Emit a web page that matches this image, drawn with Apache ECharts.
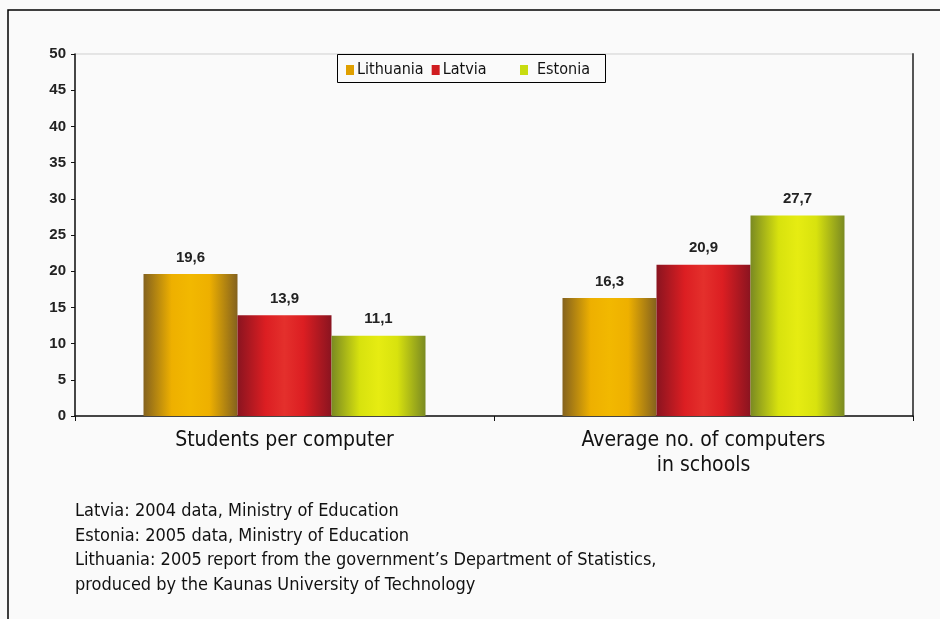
<!DOCTYPE html>
<html><head><meta charset="utf-8">
<script src="https://cdn.jsdelivr.net/npm/echarts@6/dist/echarts.min.js"></script>
<style>html,body{margin:0;padding:0;background:#fafafa}#c{width:940px;height:619px}</style>
</head><body><div id="c"></div>
<script>
const categories = ['Students per computer', 'Average no. of computers\nin schools'];
const seriesNames = ['Lithuania', 'Latvia', 'Estonia'];
const lithuania = [19.6, 16.3];
const latvia = [13.9, 20.9];
const estonia = [11.1, 27.7];
const yTicks = [0, 5, 10, 15, 20, 25, 30, 35, 40, 45, 50];
const footnotes = [
  'Latvia: 2004 data, Ministry of Education',
  'Estonia: 2005 data, Ministry of Education',
  'Lithuania: 2005 report from the government\u2019s Department of Statistics,',
  'produced by the Kaunas University of Technology'
];

const NARROW = '"Liberation Sans Narrow", "DejaVu Sans Condensed", "Arial Narrow", sans-serif';
function grad(edge, mid, hi) {
  return new echarts.graphic.LinearGradient(0, 0, 1, 0, [
    {offset: 0, color: edge}, {offset: 0.3, color: mid}, {offset: 0.5, color: hi},
    {offset: 0.7, color: mid}, {offset: 1, color: edge}
  ]);
}
const fills = [
  grad('#84621e', '#eeb000', '#f2b800'),
  grad('#8a1420', '#dc1e22', '#e4302c'),
  grad('#7a8a22', '#d8e20e', '#e6ec12')
];
const legendColors = ['#e0a000', '#d01c20', '#c8dc10'];
const values = [lithuania, latvia, estonia];

const legendBase = {
  top: 62, padding: 0, itemWidth: 8, itemHeight: 10, itemGap: 8, icon: 'rect',
  textStyle: {fontFamily: NARROW, fontSize: 16, color: '#111', padding: [0, 0, 0, -2]}
};

const chart = echarts.init(document.getElementById('c'));
chart.setOption({
  backgroundColor: '#fafafa',
  animation: false,
  grid: {left: 75, right: 27, top: 54, bottom: 203, show: true, borderColor: '#cfcfcf', borderWidth: 1, backgroundColor: 'transparent'},
  legend: [
    Object.assign({}, legendBase, {left: 346, data: [
      {name: 'Lithuania', itemStyle: {color: legendColors[0]}},
      {name: 'Latvia', itemStyle: {color: legendColors[1]}}
    ]}),
    Object.assign({}, legendBase, {left: 520, data: [
      {name: 'Estonia', itemStyle: {color: legendColors[2]}}
    ], textStyle: {fontFamily: NARROW, fontSize: 16, color: '#111', padding: [0, 0, 0, 4]}})
  ],
  xAxis: {
    type: 'category', data: categories,
    axisLine: {lineStyle: {color: '#111', width: 1.5}},
    axisTick: {show: true, length: 5, lineStyle: {color: '#111'}},
    axisLabel: {fontFamily: NARROW, fontSize: 21, color: '#111', margin: 12, lineHeight: 25}
  },
  yAxis: [{
    type: 'value', min: 0, max: 50, interval: 5,
    axisLine: {show: true, lineStyle: {color: '#111', width: 1.5}},
    axisTick: {show: true, length: 4, lineStyle: {color: '#111'}},
    axisLabel: {fontFamily: 'Liberation Sans, Arial, sans-serif', fontWeight: 'bold', fontSize: 15, color: '#222', margin: 9},
    splitLine: {show: false}
  }, {
    type: 'value', min: 0, max: 50, interval: 5, position: 'right',
    axisLine: {show: true, lineStyle: {color: '#555', width: 2}},
    axisTick: {show: false}, axisLabel: {show: false}, splitLine: {show: false}
  }],
  series: seriesNames.map((n, i) => ({
    name: n, type: 'bar', data: values[i], barWidth: 94, barGap: '0%',
    itemStyle: {color: fills[i]},
    label: {show: true, position: 'top', distance: 9, fontFamily: 'Liberation Sans, Arial, sans-serif', fontWeight: 'bold', fontSize: 15, color: '#222',
      formatter: p => String(p.value).replace('.', ',')}
  })),
  graphic: [
    {type: 'rect', shape: {x: 8, y: 10, width: 960, height: 640}, style: {fill: 'none', stroke: '#000', lineWidth: 1.5}, silent: true},
    {type: 'rect', shape: {x: 337.5, y: 54.5, width: 268, height: 28}, style: {fill: 'none', stroke: '#000', lineWidth: 1}, silent: true, z: 10},
    {type: 'text', left: 75, top: 499, style: {text: footnotes.join('\n'), fontFamily: NARROW, fontSize: 18, lineHeight: 24.7, fill: '#111'}}
  ]
});
</script></body></html>
